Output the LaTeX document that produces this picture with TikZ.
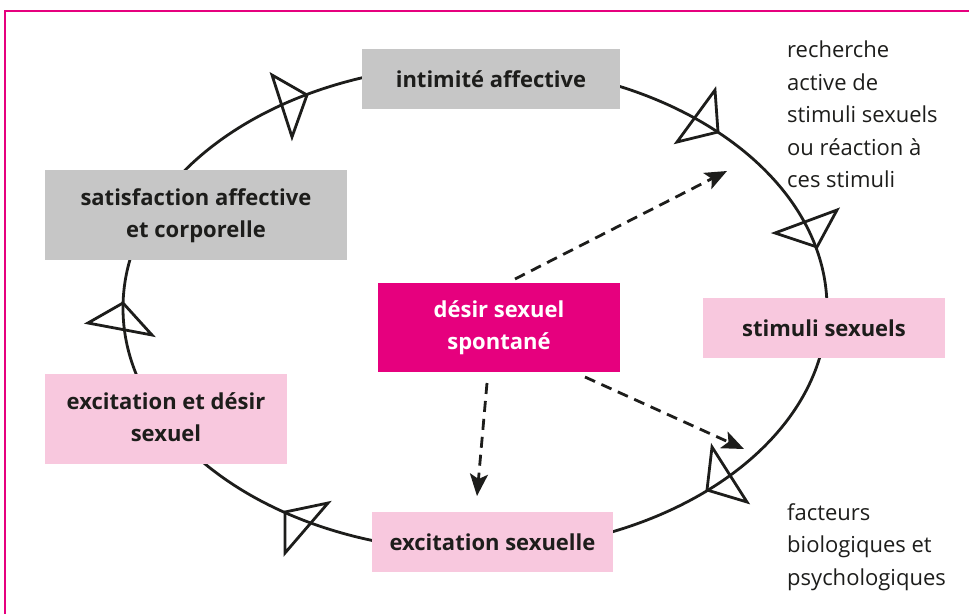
\documentclass[tikz,border=0pt]{standalone}
\usepackage{fontspec}
\setmainfont{Open Sans}
\usetikzlibrary{arrows.meta}
\definecolor{mag}{HTML}{E6007E}
\definecolor{pinkbox}{HTML}{F8C8DE}
\definecolor{graybox}{HTML}{C6C6C6}
\definecolor{ink}{HTML}{1D1D1B}
\newcommand{\twolines}[2]{\raisebox{-3pt}{\begin{tabular}{@{}c@{}}#1\\#2\end{tabular}}}
\tikzset{
  box/.style={rectangle, inner sep=0pt, align=center, text=ink,
    font=\fontsize{22}{32}\selectfont\bfseries},
  graystyle/.style={box, fill=graybox},
  pinkstyle/.style={box, fill=pinkbox},
  magstyle/.style={box, fill=mag, text=white},
  cyc/.style={draw=ink, line width=2.8pt},
  tri/.style={draw=ink, line width=2.8pt, line join=miter},
  dasharrow/.style={draw=ink, line width=2.8pt, dash pattern=on 11pt off 7pt,
    -{Stealth[length=22pt,width=18pt,inset=5pt]}},
  lbl/.style={inner sep=0pt, align=left, text=ink,
    font=\fontsize{22}{32.5}\selectfont}
}
\begin{document}
\begin{tikzpicture}[x=1pt,y=-1pt]
\useasboundingbox (0,0) rectangle (969,613);
\clip (0,0) rectangle (969,613);
% frame
\draw[mag, line width=2pt] (5,11) rectangle (1000,650);
% cycle
\draw[cyc] (475,308) ellipse [x radius=352, y radius=243];
% nodes
\node[graystyle, minimum width=258pt, minimum height=60pt] (intim) at (491,79) {intimité affective};
\node[graystyle, minimum width=302pt, minimum height=90pt] (satis) at (196,215) {\twolines{satisfaction affective}{et corporelle}};
\node[magstyle, minimum width=242pt, minimum height=89pt] (desir) at (499,327.5) {\twolines{désir sexuel}{spontané}};
\node[pinkstyle, minimum width=242pt, minimum height=60pt] (stim) at (824,328) {stimuli sexuels};
\node[pinkstyle, minimum width=242pt, minimum height=90pt] (excdes) at (166,419) {\twolines{excitation et désir}{sexuel}};
\node[pinkstyle, minimum width=241pt, minimum height=60pt] (excsex) at (492.5,542) {excitation sexuelle};
% labels
\node[lbl, anchor=north west] (rech) at (787,41) {recherche\\active de\\stimuli sexuels\\ou réaction à\\ces stimuli};
\node[lbl, anchor=north west] (fact) at (787,503) {facteurs\\biologiques et\\psychologiques};
% triangles
\draw[tri] (307,95) -- (272,75) -- (292,137) -- cycle;
\draw[tri] (718,132) -- (715,90) -- (677,142) -- cycle;
\draw[tri] (817,247) -- (837,210) -- (775,233) -- cycle;
\draw[tri] (123,303) -- (88,323) -- (152,335) -- cycle;
\draw[tri] (707,490) -- (712,447) -- (747,502) -- cycle;
\draw[tri] (285,512) -- (328,503) -- (285,553) -- cycle;
% dashed arrows
\coordinate (s1) at (515,279);
\coordinate (e1) at (727,171);
\coordinate (s2) at (487,383);
\coordinate (e2) at (477,496);
\coordinate (s3) at (585,377);
\coordinate (e3) at (744,449);
\draw[dasharrow] (s1) -- (e1);
\draw[dasharrow] (s2) -- (e2);
\draw[dasharrow] (s3) -- (e3);
\end{tikzpicture}
\end{document}
